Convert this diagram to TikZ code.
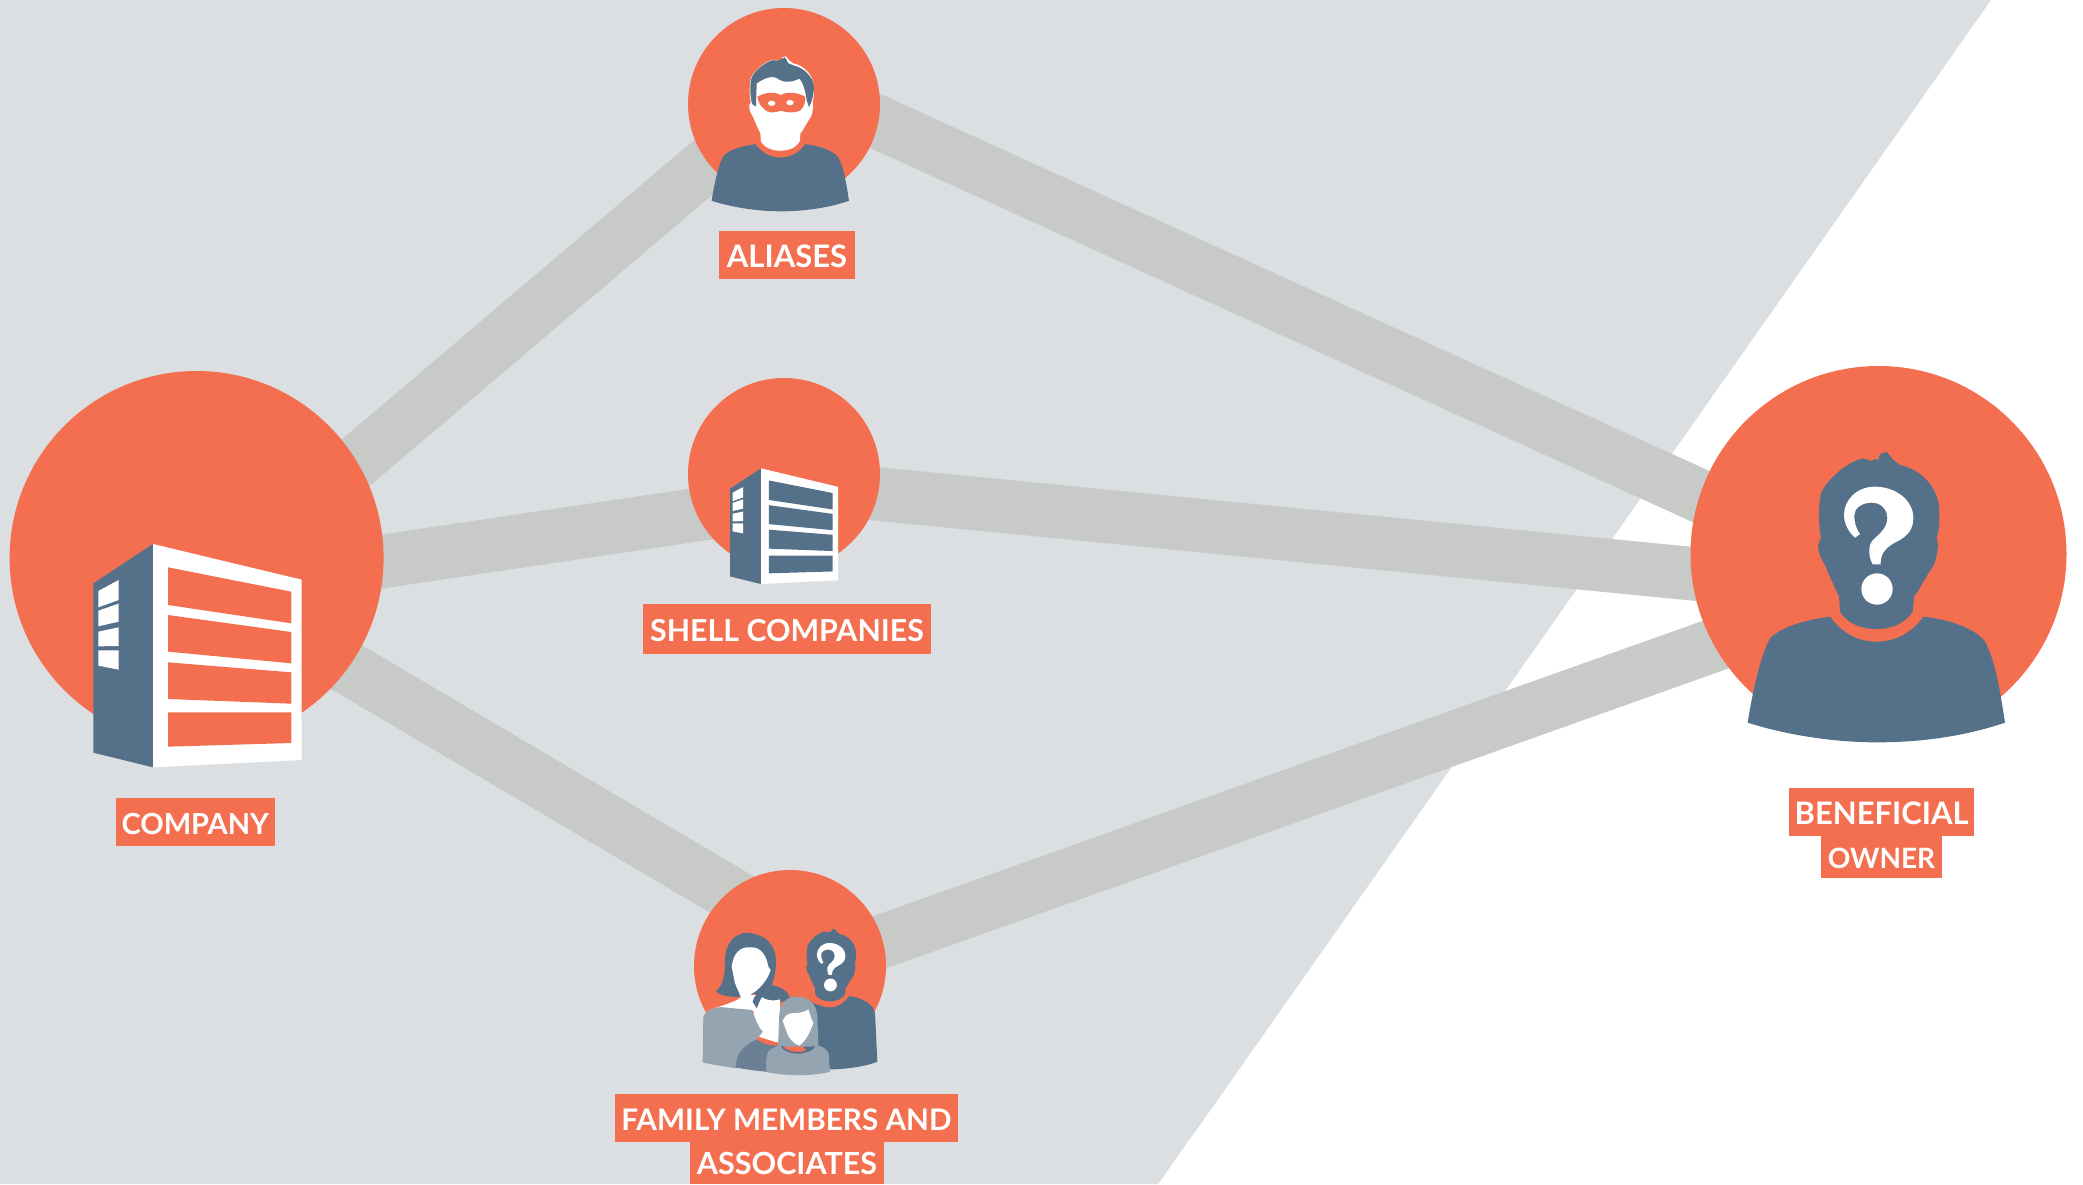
\documentclass[tikz,border=0pt]{standalone}
\usepackage{fontspec}
\setmainfont{Lato}[BoldFont={Lato Bold}]
\usetikzlibrary{backgrounds}
\definecolor{orangeC}{HTML}{F46F50}
\definecolor{steelC}{HTML}{557189}
\definecolor{bandC}{HTML}{C8CAC8}
\definecolor{paleC}{HTML}{DCDFE2}
\definecolor{greyC}{HTML}{94A5B1}
\definecolor{midC}{HTML}{6B7F95}
\tikzset{
  disc/.style={circle,fill=orangeC,inner sep=0pt,minimum size=#1},
  band/.style={draw=bandC,line width=53.5pt,shorten <=-16pt,shorten >=-16pt},
  tag/.style={fill=orangeC,text=white,inner sep=0pt,font=\bfseries\fontsize{#1}{#1}\selectfont,text height=25.6pt,text depth=0pt,minimum height=48pt,anchor=center},
}
\newcommand{\personhead}[1]{%
  \fill[#1] (500,66) -- (520,90) -- (540,105) .. controls (610,120) and (660,180) .. (658,250)
    .. controls (660,280) and (655,305) .. (650,325) .. controls (656,340) and (655,365) .. (642,405) -- (625,430) -- (590,490) -- (583,495) -- (578,545)
    .. controls (550,585) and (510,597) .. (470,597) .. controls (430,597) and (385,585) .. (360,545)
    -- (357,500) -- (325,430) -- (315,405) .. controls (290,365) and (290,340) .. (303,325)
    .. controls (295,280) and (295,230) .. (303,190) .. controls (320,150) and (380,95) .. (430,85)
    -- (445,90) -- (455,93) -- (465,87) -- (475,90) -- (480,72) -- cycle;}
\newcommand{\personbody}{%
  \fill[steelC] (83,878) .. controls (100,770) and (125,670) .. (150,625) .. controls (190,585) and (270,568) .. (330,560)
    .. controls (370,615) and (420,635) .. (470,635) .. controls (520,635) and (570,615) .. (610,560)
    .. controls (700,570) and (770,600) .. (795,635) .. controls (825,690) and (840,780) .. (855,878)
    .. controls (730,920) and (600,937) .. (470,937) .. controls (340,937) and (200,915) .. (83,878) -- cycle;}
\newcommand{\querymark}{%
  \fill[white] (405,323) -- (420,312) .. controls (405,290) and (403,275) .. (403,255) .. controls (403,235) and (425,218) .. (455,218)
    .. controls (485,218) and (502,240) .. (502,265) .. controls (502,300) and (465,320) .. (455,335) .. controls (445,350) and (445,380) .. (458,403)
    -- (482,403) .. controls (480,370) and (500,350) .. (530,335) .. controls (565,318) and (580,295) .. (580,265)
    .. controls (580,205) and (520,170) .. (465,170) .. controls (410,170) and (372,210) .. (372,255) .. controls (372,285) and (390,310) .. (405,323) -- cycle;
  \fill[white] (471,477) circle[radius=47];}
\newcommand{\buildingicon}[1]{%
  \fill[steelC] (70,190) -- (249,72) -- (249,742) -- (70,698) -- cycle;
  \fill[white] (249,72) -- (695,179) -- (695,720) -- (249,742) -- cycle;
  \fill[#1] (294,142) -- (664,215) -- (664,310) -- (294,255) -- cycle;
  \fill[#1] (294,285) -- (664,336) -- (664,430) -- (294,395) -- cycle;
  \fill[#1] (294,427) -- (664,457) -- (664,551) -- (294,537) -- cycle;
  \fill[#1] (294,577) -- (664,577) -- (664,669) -- (294,680) -- cycle;
  \fill[white] (85,213) -- (146,180) -- (146,240) -- (85,262) -- cycle;
  \fill[white] (85,272) -- (146,251) -- (146,305) -- (85,319) -- cycle;
  \fill[white] (85,335) -- (146,322) -- (146,378) -- (85,379) -- cycle;
  \fill[white] (85,391) -- (146,391) -- (146,449) -- (85,437) -- cycle;}
\begin{document}
\begin{tikzpicture}[x=1pt,y=-1pt]
\useasboundingbox (0,0) rectangle (2083,1184);
% circles
\node[disc=374pt] (company) at (196.6,558) {};
\node[disc=192pt] (aliases) at (784,104) {};
\node[disc=192pt] (shell) at (784,474) {};
\node[disc=192pt] (family) at (790,966) {};
\node[disc=376pt] (owner) at (1878.5,554) {};
\begin{pgfonlayer}{background}
  \fill[white] (0,0) rectangle (2083,1184);
  \fill[paleC] (0,0) -- (1991,0) -- (1200,1125) .. controls (1180,1152) and (1172,1165) .. (1158,1184) -- (0,1184) -- cycle;
  \draw[band] (company.31.9) -- (aliases.218.1);
  \draw[band] (aliases.349) -- (owner.162.8);
  \draw[band] (company.359.1) -- (shell.205.6);
  \draw[band] (shell.348.7) -- (owner.186.2);
  \draw[band] (company.324.7) -- (family.130.2);
  \draw[band] (family.15.4) -- (owner.209.1);
\end{pgfonlayer}
% owner icon
\begin{scope}[shift={(1720,430)},scale=1/3]
  \personbody
  \personhead{steelC}
  \querymark
\end{scope}
% aliases icon
\begin{scope}[shift={(780.3,211.3)},scale=0.178,shift={(-469,-937)}]
  \personbody
  \personhead{white}
\end{scope}
\begin{scope}[shift={(660,0)},scale=1/3]
  \fill[steelC] (375,172) -- (385,190) -- (400,196) .. controls (440,205) and (462,240) .. (462,262) .. controls (462,285) and (455,305) .. (447,322)
    -- (440,300) .. controls (436,270) and (428,245) .. (418,236) .. controls (400,245) and (375,250) .. (360,240) .. controls (345,228) and (325,226) .. (290,250)
    -- (288,320) -- (276,312) .. controls (270,285) and (268,250) .. (276,230) .. controls (290,205) and (320,185) .. (340,180) -- (352,183) -- (362,178) -- cycle;
  \fill[orangeC] (292,290) .. controls (310,280) and (340,272) .. (362,285) .. controls (385,272) and (420,280) .. (435,290)
    .. controls (440,300) and (430,325) .. (420,332) .. controls (400,340) and (380,338) .. (362,332) .. controls (345,340) and (320,340) .. (310,325) .. controls (300,315) and (294,305) .. (292,290) -- cycle;
  \fill[white] (335,310) ellipse[x radius=11,y radius=8];
  \fill[white] (390,308) ellipse[x radius=11,y radius=8];
\end{scope}
% company and shell buildings
\begin{scope}[shift={(70,520)},scale=1/3]
  \buildingicon{orangeC}
\end{scope}
\begin{scope}[shift={(718,455.9)},scale=0.1727]
  \buildingicon{steelC}
\end{scope}
% family icon
\begin{scope}[shift={(640,860)},scale=1/3]
  % man
  \fill[steelC] (490,412) .. controls (525,435) and (555,443) .. (575,442) .. controls (595,442) and (615,425) .. (628,408)
    .. controls (670,415) and (700,432) .. (705,460) .. controls (708,520) and (710,560) .. (712,605) .. controls (670,622) and (600,630) .. (540,628) -- (490,560) -- cycle;
  \begin{scope}[shift={(570.5,563.4)},scale=0.41,shift={(-469,-937)}]
    \personhead{steelC}
    \querymark
  \end{scope}
  % woman
  \fill[steelC] (320,218) .. controls (370,222) and (400,245) .. (407,290) .. controls (410,320) and (405,350) .. (395,375)
    .. controls (425,380) and (445,395) .. (452,418) -- (345,445) .. controls (335,425) and (340,410) .. (350,400) -- (300,410) .. controls (270,412) and (240,408) .. (228,393)
    .. controls (250,375) and (252,350) .. (255,320) .. controls (250,270) and (270,222) .. (320,218) -- cycle;
  \fill[white] (275,320) .. controls (280,280) and (300,258) .. (335,262) .. controls (365,262) and (380,290) .. (385,320) -- (392,330)
    .. controls (385,355) and (365,380) .. (345,395) -- (330,405) -- (360,405) .. controls (370,420) and (400,425) .. (420,418)
    -- (420,550) -- (355,530) -- (368,515) -- (345,490) -- (340,452) -- (205,452) .. controls (230,440) and (280,430) .. (303,412) -- (285,370) -- cycle;
  \fill[greyC] (190,470) .. controls (195,455) and (215,445) .. (240,441) -- (335,450) .. controls (345,470) and (350,495) .. (368,515) -- (350,540) -- (290,625) .. controls (255,620) and (220,615) .. (188,607) -- cycle;
  % girl
  \fill[steelC] (338,425) .. controls (345,400) and (360,392) .. (380,390) -- (375,405) .. controls (360,410) and (358,430) .. (350,445) -- cycle;
  \fill[midC] (287,622) .. controls (290,590) and (295,565) .. (352,537) .. controls (370,552) and (395,556) .. (420,555) -- (400,640) -- (378,635) .. controls (345,632) and (315,628) .. (287,622) -- cycle;
  \fill[orangeC] (352,532) .. controls (370,545) and (395,548) .. (415,547) -- (415,556) .. controls (395,558) and (368,552) .. (350,538) -- cycle;
  % child
  \fill[greyC] (414,560) -- (418,460) .. controls (420,425) and (445,410) .. (470,410) .. controls (505,410) and (530,430) .. (532,470) -- (535,560) -- cycle;
  \fill[white] (428,482) .. controls (435,470) and (440,462) .. (452,460) .. controls (470,458) and (490,460) .. (505,448) .. controls (510,460) and (512,475) .. (520,488)
    .. controls (510,520) and (495,545) .. (478,557) .. controls (460,550) and (445,535) .. (438,510) -- cycle;
  \fill[greyC] (380,635) .. controls (376,610) and (378,590) .. (385,575) .. controls (395,565) and (410,558) .. (420,555) .. controls (440,590) and (510,590) .. (530,555) .. controls (550,560) and (560,568) .. (566,580) -- (570,635)
    .. controls (530,648) and (430,650) .. (380,635) -- cycle;
  \draw[steelC,line width=1.7pt] (425,558) .. controls (440,585) and (505,585) .. (522,558);
\end{scope}
% labels
\node[tag=31,minimum width=136pt] (aliaslabel) at (787,255) {ALIASES};
\node[tag=30.3,minimum width=288pt,minimum height=50pt] (shelllabel) at (787,629) {SHELL COMPANIES};
\node[tag=29,minimum width=159pt] (companylabel) at (195.3,822) {COMPANY};
\node[tag=31,minimum width=184.5pt] (benlabel) at (1881.7,812) {BENEFICIAL};
\node[tag=28,minimum width=121pt,minimum height=42pt,text height=23pt] (ownlabel) at (1881.5,857) {OWNER};
\node[tag=29.7,minimum width=343pt] (famlabel) at (786.5,1118) {FAMILY MEMBERS AND};
\node[tag=30.5,minimum width=194pt,minimum height=42pt,text height=23pt] (assoclabel) at (787,1163) {ASSOCIATES};
\end{tikzpicture}
\end{document}
